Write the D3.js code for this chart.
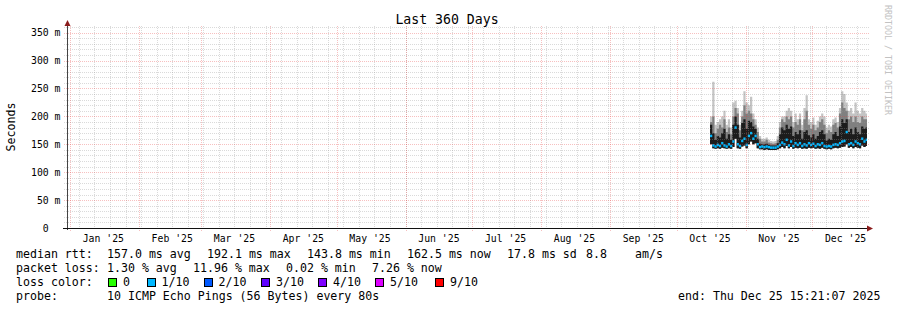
<!DOCTYPE html>
<html>
<head>
<meta charset="utf-8">
<script src="https://cdn.jsdelivr.net/npm/d3@7"></script>
<style>
body { margin: 0; background: #fff; }
text { font-family: "DejaVu Sans Mono", monospace; white-space: pre; }
</style>
</head>
<body>
<div id="chart"></div>
<script>
// ---- data ----
var endTime = new Date(Date.UTC(2025, 11, 25, 15, 21, 7));
var startTime = new Date(endTime.getTime() - 360 * 864e5);
var firstSample = Date.UTC(2025, 9, 16);   // one sample per day from here

var medianRtt = [165,148,146,149,147,152,148,146,150,147,155,180,150,147,156,160,149,165,170,160,
                 165,150,145,146,145,146,145,144,144,144,146,149,153,150,158,148,155,147,152,149,
                 152,147,150,148,152,149,151,147,150,149,152,147,146,147,146,149,150,149,152,155,
                 156,172,150,152,149,155,152,150,160,155,158];
var smokeMin  = [150,143,142,143,142,144,143,142,143,142,145,160,143,142,146,148,143,150,155,150,
                 152,143,141,141,140,141,140,140,140,140,141,143,145,143,147,143,145,142,144,143,
                 144,142,143,142,144,143,144,142,143,142,144,142,141,142,141,143,144,143,144,145,
                 146,150,144,145,143,145,144,143,148,145,147];
var smokeDark = [185,170,158,165,162,170,178,160,168,158,185,200,185,162,188,195,178,192,190,182,
                 178,160,151,150,150,151,149,148,148,148,152,168,180,175,185,178,182,165,172,168,
                 175,160,172,175,166,162,168,160,165,172,175,168,157,160,158,168,172,165,182,195,
                 188,195,172,178,168,180,172,168,182,178,180];
var smokeMid  = [190,200,170,178,185,180,195,172,180,168,200,215,205,175,200,220,205,210,205,195,
                 185,172,160,155,155,158,153,152,151,152,158,180,195,190,200,195,200,180,190,185,
                 195,175,195,210,185,178,185,175,180,190,195,185,170,175,172,185,188,180,205,225,
                 215,210,195,200,190,200,190,188,200,195,195];
var smokeMax  = [200,262,185,190,195,200,210,185,195,180,225,228,215,185,210,245,225,220,235,205,
                 195,180,165,160,160,162,158,156,155,156,165,190,200,200,210,215,210,190,205,195,
                 205,185,215,238,195,190,198,185,192,200,205,200,180,185,182,195,198,190,215,245,
                 240,225,210,215,205,225,210,205,215,210,205];

var yMajor = [0, 50, 100, 150, 200, 250, 300, 350];

var rttLabel = "median rtt:";
var rttItems = ["157.0 ms avg", "192.1 ms max", "143.8 ms min", "162.5 ms now", "17.8 ms sd", "8.8", "am/s"];
var lossLabel = "packet loss:";
var lossItems = ["1.30 % avg", "11.96 % max", "0.02 % min", "7.26 % now"];
var colorLabel = "loss color:";
var lossNames = ["0", "1/10", "2/10", "3/10", "4/10", "5/10", "9/10"];
var lossColors = ["#26ff00", "#00b8ff", "#0059ff", "#5e00ff", "#7e00ff", "#dd00ff", "#ff0000"];
var probeLabel = "probe:";
var probeText = "10 ICMP Echo Pings (56 Bytes) every 80s";
var endText = "end: Thu Dec 25 15:21:07 2025";

// ---- layout ----
var W = 897, H = 310;
var plot = { left: 67, right: 867, top: 26, bottom: 228 };
var rttX = [107, 207, 307, 407, 507, 586, 635];
var lossX = [107, 193, 286, 372];
var boxX = [108, 146.5, 203.5, 261, 318, 375, 435];
var rowY = [258, 272, 286, 300];

var svg = d3.select("#chart").append("svg")
    .attr("width", W)
    .attr("height", H);

svg.append("rect").attr("width", W).attr("height", H).attr("fill", "#fff");

var x = d3.scaleUtc()
    .domain([startTime, endTime])
    .range([plot.left, plot.right]);

var y = d3.scaleLinear()
    .domain([0, 362])
    .range([plot.bottom, plot.top]);

// rows for drawing; last sample held until the end of the graph
var rows = medianRtt.map(function (m, i) {
    return {
        t: new Date(firstSample + i * 864e5),
        med: m, lo: smokeMin[i], dark: smokeDark[i], mid: smokeMid[i], hi: smokeMax[i]
    };
});
rows.push(Object.assign({}, rows[rows.length - 1], { t: endTime }));

// smoke
function band(key) {
    return d3.area()
        .curve(d3.curveStepAfter)
        .x(function (d) { return x(d.t); })
        .y0(function (d) { return y(d.lo); })
        .y1(function (d) { return y(d[key]); });
}
var smoke = svg.append("g").attr("class", "smoke");
smoke.append("path").datum(rows).attr("d", band("hi")).attr("fill", "#c4c4c4");
smoke.append("path").datum(rows).attr("d", band("mid")).attr("fill", "#808080");
smoke.append("path").datum(rows).attr("d", band("dark")).attr("fill", "#1c1c1c");

// median: a thin band per sample, as smokeping stacks it
var medG = svg.append("g").attr("fill", lossColors[1]);
medG.selectAll("rect")
    .data(rows.slice(0, -1))
    .enter().append("rect")
    .attr("x", function (d) { return x(d.t); })
    .attr("width", function (d, i) { return x(rows[i + 1].t) - x(d.t); })
    .attr("y", function (d) { return y(d.med) - 1.25; })
    .attr("height", 2.5);

// grid (drawn over the graph, like rrdtool)
var grid = svg.append("g").attr("class", "grid").attr("shape-rendering", "crispEdges");
var minorCol = "rgba(150,150,150,0.35)";
var majorCol = "rgba(230,60,60,0.32)";

d3.range(10, 362, 10).filter(function (v) { return v % 50 != 0; }).forEach(function (v) {
    grid.append("line")
        .attr("x1", plot.left - 3).attr("x2", plot.right + 2)
        .attr("y1", Math.round(y(v)) + 0.5).attr("y2", Math.round(y(v)) + 0.5)
        .attr("stroke", minorCol).attr("stroke-dasharray", "1,1");
});
d3.utcSunday.range(startTime, endTime).forEach(function (d) {
    grid.append("line")
        .attr("x1", Math.round(x(d)) + 0.5).attr("x2", Math.round(x(d)) + 0.5)
        .attr("y1", plot.top).attr("y2", plot.bottom + 2)
        .attr("stroke", minorCol).attr("stroke-dasharray", "1,1");
});
yMajor.filter(function (v) { return v > 0; }).forEach(function (v) {
    grid.append("line")
        .attr("x1", plot.left - 3).attr("x2", plot.right + 2)
        .attr("y1", Math.round(y(v)) + 0.5).attr("y2", Math.round(y(v)) + 0.5)
        .attr("stroke", majorCol).attr("stroke-dasharray", "1,1");
});
var months = d3.utcMonth.range(startTime, endTime);
months.forEach(function (d) {
    grid.append("line")
        .attr("x1", Math.round(x(d)) + 0.5).attr("x2", Math.round(x(d)) + 0.5)
        .attr("y1", plot.top).attr("y2", plot.bottom + 3)
        .attr("stroke", majorCol).attr("stroke-dasharray", "1,1");
});

// axes
var axisG = svg.append("g").attr("shape-rendering", "crispEdges");
axisG.append("line")
    .attr("x1", plot.left + 0.5).attr("x2", plot.left + 0.5)
    .attr("y1", plot.bottom + 2).attr("y2", 24)
    .attr("stroke", "#444");
axisG.append("line")
    .attr("x1", plot.left - 4).attr("x2", plot.right + 2)
    .attr("y1", plot.bottom + 0.5).attr("y2", plot.bottom + 0.5)
    .attr("stroke", "#111");
svg.append("path")
    .attr("d", "M" + (plot.left + 0.5) + ",20 l-3,6 l6,0 z")
    .attr("fill", "#8b1c1c");
svg.append("path")
    .attr("d", "M" + (plot.right + 6) + "," + (plot.bottom + 0.5) + " l-6,-3 l0,6 z")
    .attr("fill", "#8b1c1c");

// y labels
svg.append("g").selectAll("text")
    .data(yMajor)
    .enter().append("text")
    .attr("x", 60.5)
    .attr("y", function (d) { return y(d) + 3.5; })
    .attr("text-anchor", "end")
    .attr("font-size", "9.8px")
    .attr("fill", "#000")
    .text(function (d) { return d == 0 ? "0  " : d + " m"; });

// x labels, centred half a month after the month start
var fmt = d3.utcFormat("%b '%y");
svg.append("g").selectAll("text")
    .data(months)
    .enter().append("text")
    .attr("x", function (d) { return x(d3.utcDay.offset(d, 15)); })
    .attr("y", 241.5)
    .attr("text-anchor", "middle")
    .attr("font-size", "9.8px")
    .attr("fill", "#000")
    .text(function (d) { return fmt(d); });

// title, axis label, watermark
svg.append("text")
    .attr("x", 447).attr("y", 24)
    .attr("text-anchor", "middle")
    .attr("font-size", "13.2px")
    .text("Last 360 Days");

svg.append("text")
    .attr("transform", "translate(15,127) rotate(-90)")
    .attr("text-anchor", "middle")
    .attr("font-size", "11.6px")
    .text("Seconds");

svg.append("text")
    .attr("transform", "translate(885,5) rotate(90)")
    .attr("font-size", "8.3px")
    .attr("fill", "#c2c2c2")
    .text("RRDTOOL / TOBI OETIKER");

// legend
var legend = svg.append("g").attr("font-size", "11.6px").attr("fill", "#000");
function txt(s, px, py) {
    legend.append("text").attr("x", px).attr("y", py).text(s);
}
txt(rttLabel, 16, rowY[0]);
rttItems.forEach(function (s, i) { txt(s, rttX[i], rowY[0]); });
txt(lossLabel, 16, rowY[1]);
lossItems.forEach(function (s, i) { txt(s, lossX[i], rowY[1]); });
txt(colorLabel, 16, rowY[2]);
lossNames.forEach(function (s, i) {
    legend.append("rect")
        .attr("x", boxX[i] + 0.5).attr("y", rowY[2] - 7.5)
        .attr("width", 8).attr("height", 8)
        .attr("fill", lossColors[i])
        .attr("stroke", "#000").attr("stroke-width", 1)
        .attr("shape-rendering", "crispEdges");
    txt(s, boxX[i] + 15, rowY[2]);
});
txt(probeLabel, 16, rowY[3]);
txt(probeText, 107, rowY[3]);
txt(endText, 678, rowY[3]);
</script>
</body>
</html>
